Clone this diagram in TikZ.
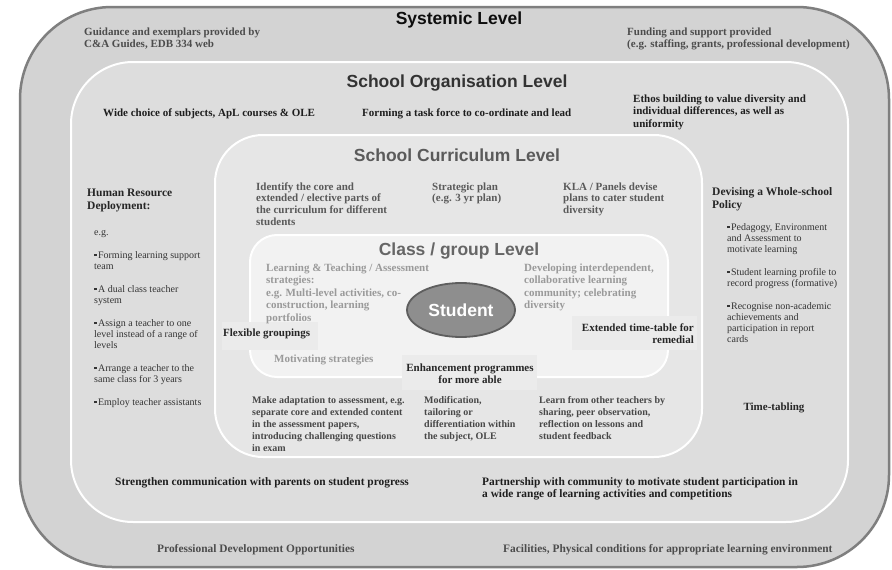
\documentclass[tikz,border=0pt]{standalone}
\usepackage{fontspec}
\setmainfont{Liberation Serif}
\setsansfont{Liberation Sans}
\usetikzlibrary{shapes.geometric}

% level fills and text colours
\definecolor{sysfill}{HTML}{D3D3D3}
\definecolor{sysline}{HTML}{7F7F7F}
\definecolor{orgfill}{HTML}{DDDDDD}
\definecolor{curfill}{HTML}{E6E6E6}
\definecolor{clsfill}{HTML}{F2F2F2}
\definecolor{bandfill}{HTML}{EBEBEB}
\definecolor{stufill}{HTML}{8E8E8E}
\definecolor{stuline}{HTML}{5E5E5E}
\definecolor{csys}{HTML}{4C4C4C}
\definecolor{corg}{HTML}{1E1E1E}
\definecolor{ccur}{HTML}{5A5A5A}
\definecolor{ccls}{HTML}{9A9A9A}
\definecolor{cdark}{HTML}{262626}
\definecolor{clist}{HTML}{333333}
\definecolor{cbot}{HTML}{474747}

% small square bullet
\newcommand\bul{\rule[0.2em]{0.24em}{0.24em}\hspace{0.15em}}
% multi-line block whose baseline is that of its first line
\newcommand\ml[2][l]{\begin{tabular}[t]{@{}#1@{}}#2\end{tabular}}

\tikzset{
  head/.style={anchor=base, inner sep=0pt, font=\sffamily\bfseries\fontsize{17.5}{20}\selectfont},
  lbl/.style={anchor=base west, inner sep=0pt, font=\bfseries\fontsize{11}{12.5}\selectfont},
  lblwide/.style={anchor=base west, inner sep=0pt, font=\bfseries\fontsize{11.4}{12.8}\selectfont},
  lblsm/.style={anchor=base west, inner sep=0pt, font=\bfseries\fontsize{10}{12}\selectfont},
  lst/.style={anchor=base west, inner sep=0pt, font=\fontsize{10}{11}\selectfont, text=clist},
  subhead/.style={anchor=base west, inner sep=0pt, font=\bfseries\fontsize{11.5}{13.5}\selectfont, text=cdark},
  band/.style={fill=bandfill, draw=none},
  inner level/.style={draw=white, line width=2pt},
}

\begin{document}
\begin{tikzpicture}[x=1pt, y=-1pt]
\useasboundingbox (0,0) rectangle (892,570);
\fill[white] (0,0) rectangle (892,570);

% nested levels
\path[fill=sysfill, draw=sysline, line width=2.5pt, rounded corners=92pt] (20,7) rectangle (889,567);
\path[inner level, fill=orgfill, rounded corners=62pt] (71,62) rectangle (848,522);
\path[inner level, fill=curfill, rounded corners=48pt] (215,135) rectangle (702,457);
\path[inner level, fill=clsfill, rounded corners=27pt] (250,235) rectangle (668,377);

% highlight bands behind crossing labels
\path[band] (222,322) rectangle (318,350);
\path[band] (572,316) rectangle (697,350);
\path[band] (402,355) rectangle (537,390);

% systemic level
\node[head, text=black!95] (sysh) at (459,24) {Systemic Level};
\node[lbl, text=csys] (guide) at (84,35) {\ml{Guidance and exemplars provided by\\C\&A Guides, EDB 334 web}};
\node[lbl, text=csys] (fund) at (627,35) {\ml{Funding and support provided\\(e.g. staffing, grants, professional development)}};
\node[lblwide, text=csys] (pdo) at (157,552) {Professional Development Opportunities};
\node[lblwide, text=csys] (facil) at (503,552) {Facilities, Physical conditions for appropriate learning environment};

% school organisation level
\node[head, text=black!80] (orgh) at (457,87) {School Organisation Level};
\node[lbl, text=corg] (wide) at (103,116) {Wide choice of subjects, ApL courses \& OLE};
\node[lbl, text=corg] (task) at (362,116) {Forming a task force to co-ordinate and lead};
\node[lbl, text=corg] (ethos) at (633,102) {\ml{Ethos building to value diversity and\\individual differences, as well as\\uniformity}};
\node[subhead] (hrd) at (87,196) {\ml{Human Resource\\Deployment:}};
\node[lst] (eg) at (94,235) {e.g.};
\node[lst] (hr1) at (94,258) {\ml{\bul Forming learning support\\team}};
\node[lst] (hr2) at (94,292) {\ml{\bul A dual class teacher\\system}};
\node[lst] (hr3) at (94,326) {\ml{\bul Assign a teacher to one\\level instead of a range of\\levels}};
\node[lst] (hr4) at (94,371) {\ml{\bul Arrange a teacher to the\\same class for 3 years}};
\node[lst] (hr5) at (94,405) {\bul Employ teacher assistants};
\node[subhead] (wsp) at (712,195) {\ml{Devising a Whole-school\\Policy}};
\node[lst] (ws1) at (727,230) {\ml{\bul Pedagogy, Environment\\and Assessment to\\motivate learning}};
\node[lst] (ws2) at (727,275) {\ml{\bul Student learning profile to\\record progress (formative)}};
\node[lst] (ws3) at (727,309) {\ml{\bul Recognise non-academic\\achievements and\\participation in report\\cards}};
\node[lbl, anchor=base, text=cdark] (timet) at (774,410) {Time-tabling};
\node[lblwide, text=corg] (parents) at (115,485) {Strengthen communication with parents on student progress};
\node[lblwide, text=corg] (partner) at (482,485) {\ml{Partnership with community to motivate student participation in\\a wide range of learning activities and competitions}};

% school curriculum level
\node[head, text=ccur] (curh) at (457,161) {School Curriculum Level};
\node[lbl, text=ccur, font=\bfseries\fontsize{11}{11.7}\selectfont] (core) at (256,190) {\ml{Identify the core and\\extended / elective parts of\\the curriculum for different\\students}};
\node[lbl, text=ccur, font=\bfseries\fontsize{11}{11.7}\selectfont] (strat) at (432,190) {\ml{Strategic plan\\(e.g. 3 yr plan)}};
\node[lbl, text=ccur, font=\bfseries\fontsize{11}{11.7}\selectfont] (kla) at (563,190) {\ml{KLA / Panels devise\\plans to cater student\\diversity}};
\node[lblsm, text=cbot] (adapt) at (252,403) {\ml{Make adaptation to assessment, e.g.\\separate core and extended content\\in the assessment papers,\\introducing challenging questions\\in exam}};
\node[lblsm, text=cbot] (modif) at (424,403) {\ml{Modification,\\tailoring or\\differentiation within\\the subject, OLE}};
\node[lblsm, text=cbot] (learn) at (539,403) {\ml{Learn from other teachers by\\sharing, peer observation,\\reflection on lessons and\\student feedback}};

% class / group level
\node[head, text=black!60] (clsh) at (459,255) {Class / group Level};
\node[lbl, text=ccls] (lt) at (266,271) {\ml{Learning \& Teaching / Assessment\\strategies:\\e.g. Multi-level activities, co-\\construction, learning\\portfolios}};
\node[lbl, text=ccls] (dev) at (524,271) {\ml{Developing interdependent,\\collaborative learning\\community; celebrating\\diversity}};
\node[lbl, text=ccls] (motiv) at (274,362) {Motivating strategies};
\node[lbl, text=cdark] (flex) at (223,336) {Flexible groupings};
\node[lbl, anchor=base east, text=cdark] (ext) at (694,331) {\ml[r]{Extended time-table for\\remedial}};
\node[lbl, anchor=base, text=cdark] (enh) at (470,371) {\ml[c]{Enhancement programmes\\for more able}};

% the student at the centre
\node[ellipse, draw=stuline, line width=1.8pt, fill=stufill, minimum width=108pt, minimum height=54pt,
      inner sep=0pt, text=white, font=\sffamily\bfseries\fontsize{17.5}{20}\selectfont] (student) at (461,310) {Student};
\end{tikzpicture}
\end{document}
